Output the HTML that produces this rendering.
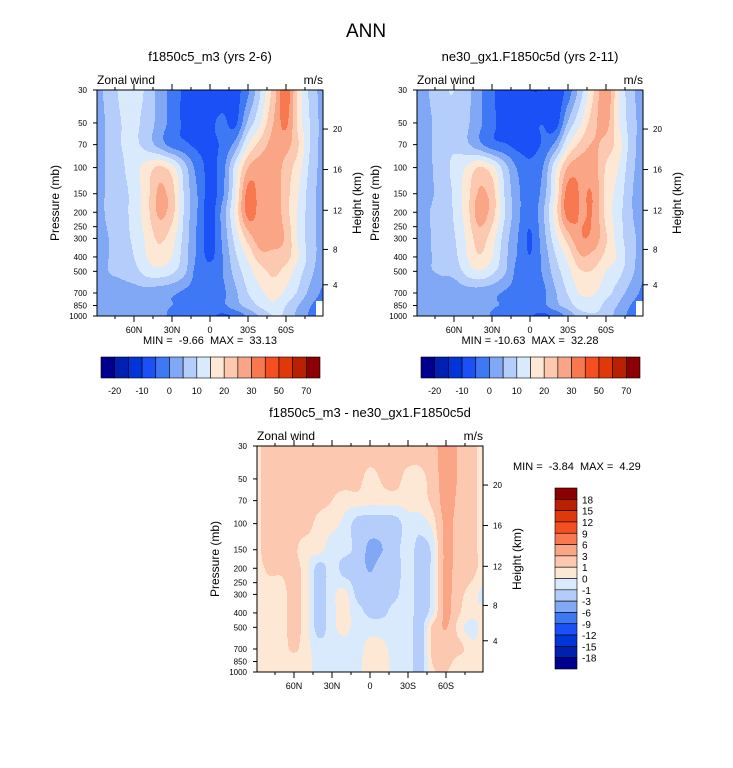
<!DOCTYPE html>
<html><head><meta charset="utf-8">
<style>
html,body{margin:0;padding:0;background:#fff;}
svg{display:block;font-family:"Liberation Sans",Arial,sans-serif;}
.pre{white-space:pre;}
</style></head>
<body>
<svg id="chart" width="733" height="768" viewBox="0 0 733 768" xmlns="http://www.w3.org/2000/svg">
<rect x="0" y="0" width="733" height="768" fill="#fff"/>
<text x="366" y="37" font-size="19" text-anchor="middle">ANN</text>
<g id="layer"></g>
</svg>
<script>
const lats=[90,80,70,60,50,40,30,20,10,0,-10,-20,-30,-40,-50,-60,-70,-80,-90];
const plevs=[30,50,70,100,150,200,300,400,500,700,850,1000];
// panel 1 zonal wind (rows = pressure levels, cols = lats N->S)
const u1=[
[3,7,11,12,9,3,-2,-6,-7,-8,-8,-7,-1,10,22,33,18,8,3],
[3,6,10,11,8,3,-2,-6,-7,-6,-4,-6,6,15,25,31,18,9,3],
[3,6,10,11,8,3,-2,-4,-6,-6,-4,2,15,22,27,27,20,9,3],
[3,6,9,13,17,21,17,7,-2,-6,-2,12,25,28,28,23,17,8,3],
[3,6,8,12,18,26,22,9,0,-7,-1,14,32,28,29,22,15,7,3],
[3,6,8,12,18,26,22,9,0,-7,2,16,32,28,29,22,14,7,3],
[3,5,8,11,16,21,17,8,-1,-7,1,12,22,28,28,24,14,7,3],
[3,5,7,10,15,18,15,7,-1,-6,0,9,16,23,23,22,15,7,3],
[3,5,6,8,12,13,11,6,-2,-3,0,7,13,18,21,18,12,6,1],
[3,3,3,3,3,2,1,-1,-2,-2,-1,4,10,14,17,14,9,3,-1],
[2,2,2,2,2,1,0,-1,-2,-2,-1,3,7,11,14,10,5,0,-2],
[2,2,2,2,1,1,-1,-3,-3,-4,-6,-4,1,6,10,9,3,-1,-2]
];
// difference panel (panel1 - panel2)
const du=[
[0.5,2,2,2,2,2,2,2,2,2,2,2,2,2,2.5,4,2.8,1.5,0.5],
[0.5,2,2,2,2,2,1.5,1.5,1.5,0.5,1.2,1.5,0.5,0.5,2,4,2.8,1.5,0.5],
[0.5,2,2,2,2,1.5,1,0.5,0.5,0.3,0.4,0.4,0.4,0.5,1.5,4,2.5,1.5,0.5],
[0.5,1.8,1.8,1.5,1.5,0.5,0.3,-0.3,-1.5,-1.8,-1.8,-1.5,-0.5,-0.5,0.5,3.5,2.2,1.5,0.5],
[0.5,1.8,1.5,1.2,0.4,0.3,-0.5,-0.6,-1.5,-3.5,-3,-1.5,-0.5,-1.5,-0.5,3.5,2,1.5,0.5],
[0.5,1.2,1.2,1.5,0.3,-1.5,-0.5,-1.5,-1.8,-3.2,-1.8,-1.5,-0.5,-1.5,-0.5,3.5,2,1.5,0.5],
[0.5,0.5,0.5,1.5,0.3,-1.5,-0.3,0.3,-1.3,-1.5,-1.5,-1.2,-0.5,-1.5,-0.5,3.5,1.5,0.5,-0.3],
[0.5,0.5,0.5,1.5,0.3,-1.5,-0.3,0.3,-0.6,-1.2,-1.2,-0.6,-0.5,-1.5,-0.2,3.5,1.2,0.3,0.2],
[0.5,0.5,0.5,1.5,0.3,-1.5,-0.3,0.3,-0.5,-0.5,-0.5,-0.5,-0.5,-1.5,1.5,3.1,0.5,-0.3,0.3],
[0.5,0.5,0.5,1.2,0.3,-0.5,-0.5,-0.5,-0.5,0.5,0.3,-0.5,-0.5,-1.5,1.5,2,1.5,0.3,0.3],
[0.5,0.5,0.5,0.5,0.3,-0.5,-0.5,-0.5,-0.3,0.5,0.3,-0.3,-0.5,-1.5,1.2,1.5,0.5,0.3,0.3],
[0.5,0.5,0.5,0.5,0.3,-0.5,-0.5,-0.5,-0.3,0.5,0.3,-0.3,-0.5,-1.5,0.8,1,0.5,0.3,0.3]
];
const levMain=[-20,-15,-10,-5,0,5,10,15,20,25,30,40,50,60,70];
const levMainLabels=["-20","","-10","","0","","10","","20","","30","","50","","70"];
const levDiff=[-18,-15,-12,-9,-6,-3,-1,0,1,3,6,9,12,15,18];
const levDiffLabels=["-18","-15","-12","-9","-6","-3","-1","0","1","3","6","9","12","15","18"];
const colors=["#00008f","#0020b0","#0035d8","#1a50f5","#3f78f5","#80a8f5","#b4cdfa","#d8eafc","#fde8d5","#fcc8b0","#faa585","#f87850","#f54e20","#e03808","#b82000","#8b0000"];
const xTickLats=[60,30,0,-30,-60];
const xTickLabels=["60N","30N","0","30S","60S"];
const yTickP=[30,50,70,100,150,200,250,300,400,500,700,850,1000];
const zTicks=[4,8,12,16,20];
const zTickP=[616,356,194,103,55];

const u2=u1.map((r,i)=>r.map((v,j)=>v-du[i][j]));
const NS="http://www.w3.org/2000/svg";
const layer=document.getElementById('layer');
function mk(tag,attrs,parent){const e=document.createElementNS(NS,tag);for(const k in attrs)e.setAttribute(k,attrs[k]);(parent||layer).appendChild(e);return e;}
const W=226,H=226;
function cr(p0,p1,p2,p3,t){return 0.5*((2*p1)+(-p0+p2)*t+(2*p0-5*p1+4*p2-p3)*t*t+(-p0+3*p1-3*p2+p3)*t*t*t);}
function fracIdx(arr,v,desc){
  const n=arr.length;
  for(let i=0;i<n-1;i++){const a=arr[i],b=arr[i+1];
    if(desc?(v<=a&&v>=b):(v>=a&&v<=b))return i+(v-a)/(b-a);}
  return desc?(v>arr[0]?0:n-1):(v<arr[0]?0:n-1);
}
const logP=plevs.map(p=>Math.log(p));
function sample(grid,lat,p){
  const fx=fracIdx(lats,lat,true), fy=fracIdx(logP,Math.log(p),false);
  const nx=lats.length, ny=plevs.length;
  const ix=Math.min(Math.floor(fx),nx-2), iy=Math.min(Math.floor(fy),ny-2);
  const tx=fx-ix, ty=fy-iy;
  const g=(r,c)=>grid[Math.max(0,Math.min(ny-1,r))][Math.max(0,Math.min(nx-1,c))];
  const rows=[];
  for(let r=iy-1;r<=iy+2;r++)rows.push(cr(g(r,ix-1),g(r,ix),g(r,ix+1),g(r,ix+2),tx));
  return cr(rows[0],rows[1],rows[2],rows[3],ty);
}
function colorIdx(v,lev){let k=0;while(k<lev.length&&v>=lev[k])k++;return k;}
function panel(name,x0,y0,grid,lev,mask,title,tx){
  const g=mk('g',{});
  
  
  const xS=lat=>x0+W/2-lat*(W/2)/89.2;
  const yS=p=>y0+H*Math.log(p/30)/Math.log(1000/30);
  const latOf=px=>(x0+W/2-px)*89.2/(W/2);
  const pOf=py=>30*Math.exp((py-y0)/H*Math.log(1000/30));
  const field=mk('g',{},g);
  
  
  for(let r=0;r<H;r++){
    const p=pOf(y0+r+0.5);let start=0,cur=null;
    for(let c=0;c<=W;c++){
      let col=null;
      if(c<W){const lat=latOf(x0+c+0.5);col=(mask&&lat<-84&&p>790)?'#ffffff':colors[colorIdx(sample(grid,lat,p),lev)];}
      if(col!==cur){
        if(cur!==null){const rc=mk('rect',{x:x0+start,y:y0+r,width:c-start+0.4,height:1.4,fill:cur},field);
          
          }
        cur=col;start=c;}
    }
  }
  const fr=mk('rect',{x:x0,y:y0,width:W,height:H,fill:'none',stroke:'#000','stroke-width':1},g);
  
  
  for(let lat=75;lat>=-75;lat-=15){
    const x=xS(lat);const L=(lat%30===0)?6:3;
    mk('line',{x1:x,x2:x,y1:y0,y2:y0-L,stroke:'#000'},g);
    mk('line',{x1:x,x2:x,y1:y0+H,y2:y0+H+L,stroke:'#000'},g);
  }
  xTickLats.forEach((lat,i)=>{const t=mk('text',{x:xS(lat),y:y0+H+17,'font-size':9,'text-anchor':'middle'},g);t.textContent=xTickLabels[i];
    
    });
  yTickP.forEach(p=>{const y=yS(p);mk('line',{x1:x0,x2:x0-4,y1:y,y2:y,stroke:'#000'},g);
    const t=mk('text',{x:x0-10,y:y+3,'font-size':8,'text-anchor':'end'},g);t.textContent=p;
    
    });
  zTickP.forEach((p,i)=>{const y=yS(p);mk('line',{x1:x0+W,x2:x0+W+5,y1:y,y2:y,stroke:'#000'},g);
    const t=mk('text',{x:x0+W+10,y:y+3,'font-size':8},g);t.textContent=zTicks[i];
    
    });
  const yt=mk('text',{x:0,y:0,'font-size':12,'text-anchor':'middle',transform:`translate(${x0-38},${y0+H/2}) rotate(-90)`},g);yt.textContent='Pressure (mb)';
  
  
  const zt=mk('text',{x:0,y:0,'font-size':12,'text-anchor':'middle',transform:`translate(${x0+W+38},${y0+H/2}) rotate(-90)`},g);zt.textContent='Height (km)';
  
  
  const zw=mk('text',{x:x0,y:y0-6,'font-size':12},g);zw.textContent='Zonal wind';
  
  
  const un=mk('text',{x:x0+W,y:y0-6,'font-size':12,'text-anchor':'end'},g);un.textContent='m/s';
  
  
  const ti=mk('text',{x:tx,y:y0-29,'font-size':13,'text-anchor':'middle'},g);ti.textContent=title;
  
  
}
panel('panel-f1850c5-m3',97,90,u1,levMain,true,'f1850c5_m3 (yrs 2-6)',210);
panel('panel-ne30',417,90,u2,levMain,true,'ne30_gx1.F1850c5d (yrs 2-11)',530);
panel('panel-difference',257,446,du,levDiff,false,'f1850c5_m3 - ne30_gx1.F1850c5d',370);

function minmax(x,y,txt,anchor){const t=mk('text',{x:x,y:y,'font-size':11,'text-anchor':anchor,'class':'pre'});t.textContent=txt;
  
  }
minmax(210,344,'MIN =  -9.66  MAX =  33.13','middle');
minmax(530,344,'MIN = -10.63  MAX =  32.28','middle');
minmax(513,470,'MIN =  -3.84  MAX =  4.29','start');

function hbar(name,x0,y0){
  const g=mk('g',{});
  
  
  const bw=219/16;
  colors.forEach((c,i)=>{const r=mk('rect',{x:x0+i*bw,y:y0,width:bw,height:21,fill:c,stroke:'#000','stroke-width':0.6},g);
    
    });
  levMainLabels.forEach((l,i)=>{if(!l)return;const t=mk('text',{x:x0+(i+1)*bw,y:y0+37,'font-size':9,'text-anchor':'middle'},g);t.textContent=l;
    
    });
}
hbar('colorbar-left',101,357);
hbar('colorbar-right',421,357);
(function(){
  const g=mk('g',{});
  
  
  const x0=555,y0=488,bh=181/16;
  colors.slice().reverse().forEach((c,i)=>{const r=mk('rect',{x:x0,y:y0+i*bh,width:22,height:bh,fill:c,stroke:'#000','stroke-width':0.6},g);
    
    });
  levDiffLabels.slice().reverse().forEach((l,i)=>{const t=mk('text',{x:x0+27,y:y0+(i+1)*bh+4,'font-size':10},g);t.textContent=l;
    
    });
})();
</script>
</body></html>
